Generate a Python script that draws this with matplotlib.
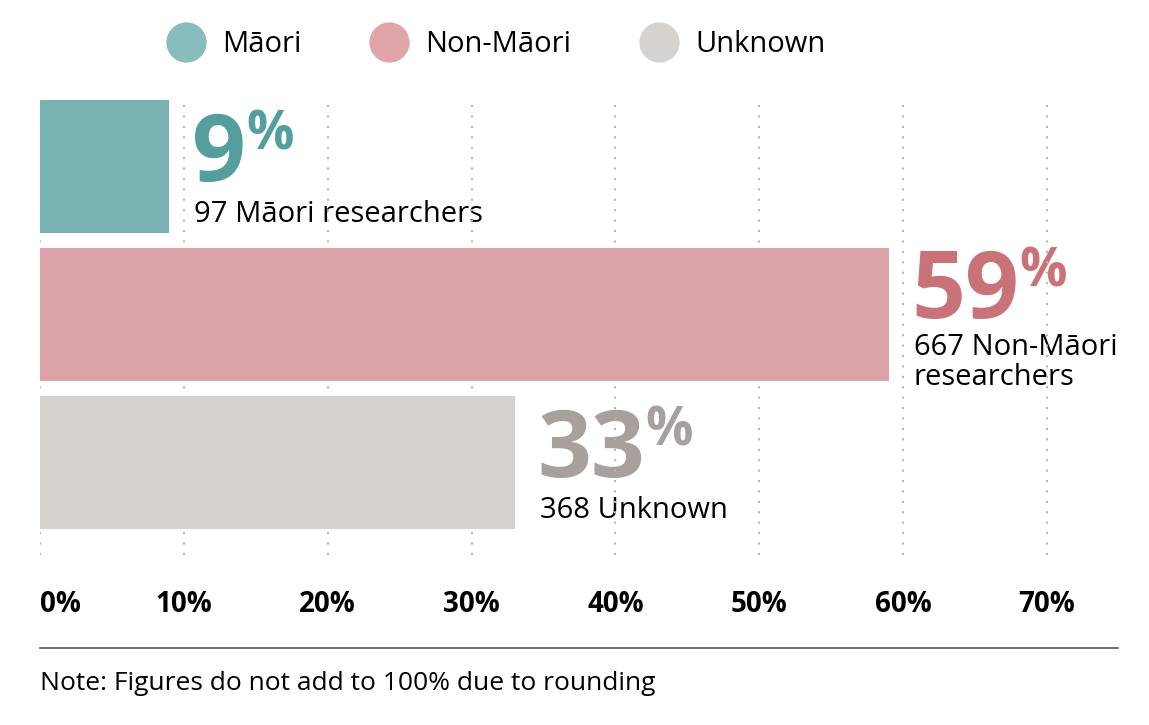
import matplotlib.pyplot as plt
from matplotlib.lines import Line2D

plt.rcParams['font.family'] = ['Open Sans', 'DejaVu Sans']

groups = ['Māori', 'Non-Māori', 'Unknown']
shares = [9, 59, 33]
counts = [97, 667, 368]
labels = ['97 Māori researchers', '667 Non-Māori\nresearchers', '368 Unknown']
ticks = [0, 10, 20, 30, 40, 50, 60, 70]
tick_labels = ['0%', '10%', '20%', '30%', '40%', '50%', '60%', '70%']

bar_colors = ['#77b1b1', '#dba3a7', '#d6d2cf']
text_colors = ['#559e9e', '#c97378', '#a8a09d']
legend_colors = ['#89bdbd', '#dfa5a9', '#d6d2cf']

W, H = 1149, 725
fig = plt.figure(figsize=(W / 100, H / 100), dpi=100)
ax = fig.add_axes([40 / W, 170 / H, 1079 / W, 455 / H])

ypos = range(len(groups))
ax.barh(ypos, shares, height=0.9, color=bar_colors, zorder=2)
ax.set_xlim(0, 75)
ax.set_ylim(2.625, -0.45)

for t in ticks:
    ax.axvline(t, color='#b5b5b5', lw=1.5, linestyle=(0, (1, 4)), zorder=1.5)

for s in ax.spines.values():
    s.set_visible(False)
ax.set_yticks([])
ax.set_xticks(ticks)
ax.set_xticklabels(tick_labels, fontsize=20, fontweight='bold')
ax.get_xticklabels()[0].set_ha('left')
ax.tick_params(axis='x', length=0, pad=25)

px = 0.72  # points per pixel
for i, (v, lab) in enumerate(zip(shares, labels)):
    two_lines = '\n' in lab
    lab_off = -4 if two_lines else 11
    num_off = 63 if two_lines else 52
    ax.annotate(lab, xy=(v, i + 0.45), xytext=(25 * px, lab_off * px),
                textcoords='offset points', fontsize=21,
                ha='left', va='baseline', color='black',
                linespacing=1.07, zorder=1)
    num_t = ax.annotate(str(v), xy=(v, i + 0.45), xytext=(23 * px, num_off * px),
                        textcoords='offset points', fontsize=68,
                        fontweight='bold', ha='left', va='baseline',
                        color=text_colors[i], zorder=1)
    ax.annotate('%', xy=(1, 1), xycoords=num_t, xytext=(0, 1),
                textcoords='offset points', fontsize=38, fontweight='bold',
                ha='left', va='top', color=text_colors[i], zorder=1)

handles = [Line2D([], [], marker='o', linestyle='none', markersize=29,
                  markerfacecolor=c, markeredgecolor='none') for c in legend_colors]
fig.legend(handles, groups, loc='center', bbox_to_anchor=(497 / W, 1 - 45 / H),
           ncol=3, frameon=False, fontsize=21, handletextpad=0.65,
           columnspacing=2.4, handlelength=1.2)

fig.add_artist(Line2D([40 / W, 1118 / W], [1 - 648 / H, 1 - 648 / H],
                      color='#555555', lw=1.2))
fig.text(40 / W, 1 - 690 / H, 'Note: Figures do not add to 100% due to rounding',
         fontsize=19, ha='left', va='baseline')

fig.savefig('out.png', dpi=100)
